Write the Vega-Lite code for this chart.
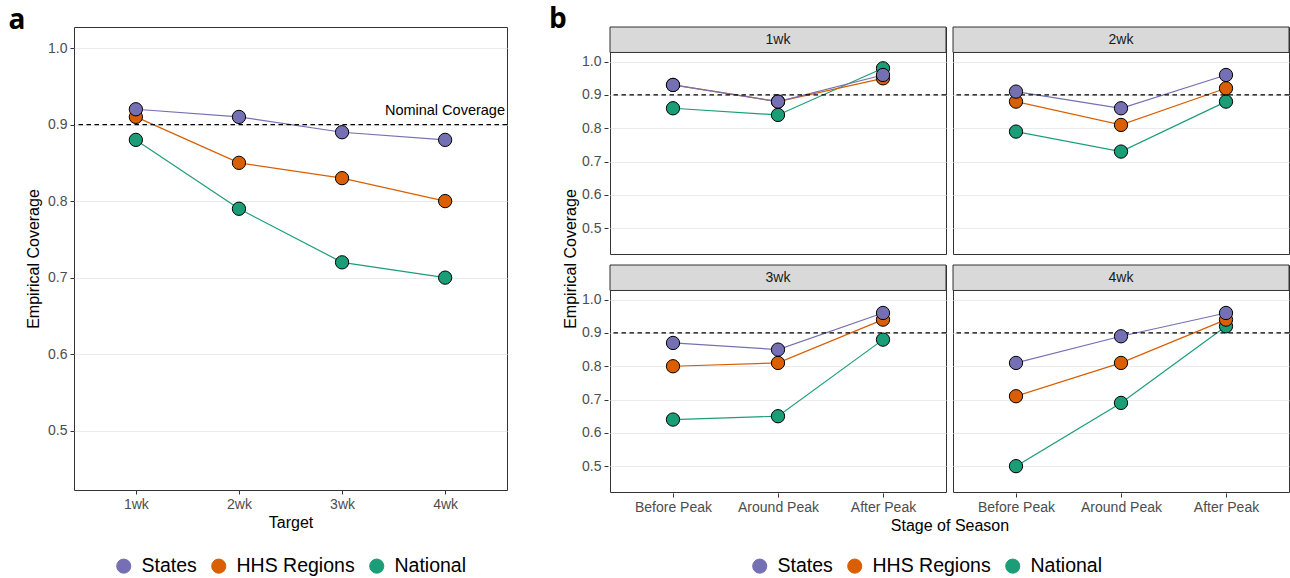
{
  "$schema": "https://vega.github.io/schema/vega-lite/v6.json",
  "padding": {"left": 8, "right": 0, "top": 6, "bottom": 0},
  "datasets": {
    "overall": [
      {"target": "1wk", "level": "National", "coverage": 0.88},
      {"target": "2wk", "level": "National", "coverage": 0.79},
      {"target": "3wk", "level": "National", "coverage": 0.72},
      {"target": "4wk", "level": "National", "coverage": 0.70},
      {"target": "1wk", "level": "HHS Regions", "coverage": 0.91},
      {"target": "2wk", "level": "HHS Regions", "coverage": 0.85},
      {"target": "3wk", "level": "HHS Regions", "coverage": 0.83},
      {"target": "4wk", "level": "HHS Regions", "coverage": 0.80},
      {"target": "1wk", "level": "States", "coverage": 0.92},
      {"target": "2wk", "level": "States", "coverage": 0.91},
      {"target": "3wk", "level": "States", "coverage": 0.89},
      {"target": "4wk", "level": "States", "coverage": 0.88}
    ],
    "stage": [
      {"target": "1wk", "stage": "Before Peak", "level": "National", "coverage": 0.86},
      {"target": "1wk", "stage": "Around Peak", "level": "National", "coverage": 0.84},
      {"target": "1wk", "stage": "After Peak", "level": "National", "coverage": 0.98},
      {"target": "1wk", "stage": "Before Peak", "level": "HHS Regions", "coverage": 0.93},
      {"target": "1wk", "stage": "Around Peak", "level": "HHS Regions", "coverage": 0.88},
      {"target": "1wk", "stage": "After Peak", "level": "HHS Regions", "coverage": 0.95},
      {"target": "1wk", "stage": "Before Peak", "level": "States", "coverage": 0.93},
      {"target": "1wk", "stage": "Around Peak", "level": "States", "coverage": 0.88},
      {"target": "1wk", "stage": "After Peak", "level": "States", "coverage": 0.96},
      {"target": "2wk", "stage": "Before Peak", "level": "National", "coverage": 0.79},
      {"target": "2wk", "stage": "Around Peak", "level": "National", "coverage": 0.73},
      {"target": "2wk", "stage": "After Peak", "level": "National", "coverage": 0.88},
      {"target": "2wk", "stage": "Before Peak", "level": "HHS Regions", "coverage": 0.88},
      {"target": "2wk", "stage": "Around Peak", "level": "HHS Regions", "coverage": 0.81},
      {"target": "2wk", "stage": "After Peak", "level": "HHS Regions", "coverage": 0.92},
      {"target": "2wk", "stage": "Before Peak", "level": "States", "coverage": 0.91},
      {"target": "2wk", "stage": "Around Peak", "level": "States", "coverage": 0.86},
      {"target": "2wk", "stage": "After Peak", "level": "States", "coverage": 0.96},
      {"target": "3wk", "stage": "Before Peak", "level": "National", "coverage": 0.64},
      {"target": "3wk", "stage": "Around Peak", "level": "National", "coverage": 0.65},
      {"target": "3wk", "stage": "After Peak", "level": "National", "coverage": 0.88},
      {"target": "3wk", "stage": "Before Peak", "level": "HHS Regions", "coverage": 0.80},
      {"target": "3wk", "stage": "Around Peak", "level": "HHS Regions", "coverage": 0.81},
      {"target": "3wk", "stage": "After Peak", "level": "HHS Regions", "coverage": 0.94},
      {"target": "3wk", "stage": "Before Peak", "level": "States", "coverage": 0.87},
      {"target": "3wk", "stage": "Around Peak", "level": "States", "coverage": 0.85},
      {"target": "3wk", "stage": "After Peak", "level": "States", "coverage": 0.96},
      {"target": "4wk", "stage": "Before Peak", "level": "National", "coverage": 0.50},
      {"target": "4wk", "stage": "Around Peak", "level": "National", "coverage": 0.69},
      {"target": "4wk", "stage": "After Peak", "level": "National", "coverage": 0.92},
      {"target": "4wk", "stage": "Before Peak", "level": "HHS Regions", "coverage": 0.71},
      {"target": "4wk", "stage": "Around Peak", "level": "HHS Regions", "coverage": 0.81},
      {"target": "4wk", "stage": "After Peak", "level": "HHS Regions", "coverage": 0.94},
      {"target": "4wk", "stage": "Before Peak", "level": "States", "coverage": 0.81},
      {"target": "4wk", "stage": "Around Peak", "level": "States", "coverage": 0.89},
      {"target": "4wk", "stage": "After Peak", "level": "States", "coverage": 0.96}
    ]
  },
  "config": {
    "font": "Liberation Sans",
    "view": {"stroke": "#333333", "strokeWidth": 1},
    "axis": {
      "domain": false,
      "gridColor": "#EBEBEB",
      "gridWidth": 1,
      "tickColor": "#333333",
      "tickSize": 4,
      "labelColor": "#4D4D4D",
      "labelFontSize": 14,
      "labelPadding": 3,
      "titleFontSize": 16,
      "titleFontWeight": "normal",
      "titleColor": "#000000"
    },
    "title": {"font": "Open Sans", "fontWeight": "bold", "fontSize": 28, "anchor": "start", "frame": "bounds", "offset": 0, "dy": 12, "color": "#000000"},
    "legend": {
      "orient": "bottom",
      "direction": "horizontal",
      "title": null,
      "labelFontSize": 19.5,
      "labelColor": "#000000",
      "symbolSize": 200,
      "symbolType": "circle",
      "symbolStrokeColor": "#000000",
      "symbolStrokeWidth": 1,
      "symbolOpacity": 1,
      "labelOffset": 8,
      "columnPadding": 12,
      "offset": 26,
      "layout": {"bottom": {"anchor": "middle"}}
    }
  },
  "resolve": {"scale": {"color": "independent"}, "legend": {"color": "independent"}},
  "spacing": 40,
  "hconcat": [
    {
      "title": {"text": "a", "dx": -17},
      "width": 433,
      "height": 463,
      "data": {"name": "overall"},
      "layer": [
        {
          "mark": {"type": "line", "strokeWidth": 1.2},
          "encoding": {
            "x": {"field": "target", "type": "ordinal", "scale": {"type": "point", "padding": 0.6}, "axis": {"title": "Target", "labelAngle": 0, "titlePadding": 3}},
            "y": {"field": "coverage", "type": "quantitative", "scale": {"domain": [0.4225, 1.0275], "nice": false, "zero": false}, "axis": {"values": [0.5, 0.6, 0.7, 0.8, 0.9, 1.0], "format": ".1f", "title": "Empirical Coverage", "titlePadding": 6}},
            "color": {"field": "level", "type": "nominal", "scale": {"domain": ["States", "HHS Regions", "National"], "range": ["#7570B3", "#D95F02", "#1B9E77"]}}
          }
        },
        {
          "transform": [{"filter": {"and": [{"field": "target", "equal": "4wk"}, {"field": "level", "equal": "States"}]}}],
          "mark": {"type": "rule", "strokeDash": [4.5, 3.5], "color": "#000000", "strokeWidth": 1.2},
          "encoding": {"y": {"datum": 0.9}}
        },
        {
          "transform": [{"filter": {"and": [{"field": "target", "equal": "4wk"}, {"field": "level", "equal": "States"}]}}],
          "mark": {"type": "text", "text": "Nominal Coverage", "fontSize": 14.5, "align": "right", "baseline": "alphabetic", "dx": -2, "dy": -9.5, "color": "#000000"},
          "encoding": {"x": {"value": "width"}, "y": {"datum": 0.9}}
        },
        {
          "mark": {"type": "circle", "size": 177, "stroke": "#000000", "strokeWidth": 1, "opacity": 1},
          "encoding": {
            "x": {"field": "target", "type": "ordinal"},
            "y": {"field": "coverage", "type": "quantitative"},
            "color": {"field": "level", "type": "nominal", "scale": {"domain": ["States", "HHS Regions", "National"], "range": ["#7570B3", "#D95F02", "#1B9E77"]}, "legend": {"encode": {"symbols": {"update": {"stroke": {"value": "#000000"}, "strokeWidth": {"value": 1}}}}}}
          }
        }
      ]
    },
    {
      "title": {"text": "b", "dx": -13},
      "spacing": -17,
      "hconcat": [
        {
          "width": 0,
          "height": 463,
          "view": {"stroke": null},
          "data": {"name": "stage"},
          "transform": [{"filter": {"and": [{"field": "target", "equal": "1wk"}, {"field": "level", "equal": "States"}, {"field": "stage", "equal": "Around Peak"}]}}],
          "mark": {"type": "rule", "strokeOpacity": 0},
          "encoding": {
            "y": {"datum": 0.9, "type": "quantitative", "scale": {"domain": [0.4225, 1.104], "nice": false, "zero": false}, "axis": {"title": "Empirical Coverage", "labels": false, "ticks": false, "grid": false, "domain": false, "titlePadding": 0, "labelPadding": 0, "tickSize": 0, "minExtent": 0}}
          }
        },
        {
          "spacing": 9,
          "vconcat": [
            {
              "data": {"name": "stage"},
              "transform": [{"filter": {"field": "target", "oneOf": ["1wk", "2wk"]}}],
              "facet": {"column": {"field": "target", "type": "nominal", "header": {"labels": false, "title": null}}},
              "spacing": 3,
              "spec": {
                "width": 336,
                "height": 227,
                "layer": [
                  {
                    "mark": {"type": "line", "strokeWidth": 1.2},
                    "encoding": {
                      "x": {"field": "stage", "type": "ordinal", "sort": ["Before Peak", "Around Peak", "After Peak"], "scale": {"type": "point", "padding": 0.6}, "axis": {"title": null, "labels": false, "ticks": false}},
                      "y": {"field": "coverage", "type": "quantitative", "scale": {"domain": [0.4225, 1.104], "nice": false, "zero": false}, "axis": {"values": [0.5, 0.6, 0.7, 0.8, 0.9, 1.0], "format": ".1f", "title": null}},
                      "color": {"field": "level", "type": "nominal", "scale": {"domain": ["States", "HHS Regions", "National"], "range": ["#7570B3", "#D95F02", "#1B9E77"]}}
                    }
                  },
                  {
                    "transform": [{"filter": {"and": [{"field": "level", "equal": "States"}, {"field": "stage", "equal": "Around Peak"}]}}],
                    "mark": {"type": "rect", "fill": "#D9D9D9", "stroke": "#333333", "strokeWidth": 1},
                    "encoding": {"x": {"value": 0}, "x2": {"value": "width"}, "y": {"datum": 1.104}, "y2": {"datum": 1.0275}}
                  },
                  {
                    "transform": [{"filter": {"and": [{"field": "level", "equal": "States"}, {"field": "stage", "equal": "Around Peak"}]}}],
                    "mark": {"type": "text", "fontSize": 14, "color": "#1A1A1A", "baseline": "middle"},
                    "encoding": {"x": {"field": "stage", "type": "ordinal", "sort": ["Before Peak", "Around Peak", "After Peak"]}, "y": {"datum": 1.066}, "text": {"field": "target"}}
                  },
                  {
                    "transform": [{"filter": {"and": [{"field": "level", "equal": "States"}, {"field": "stage", "equal": "Around Peak"}]}}],
                    "mark": {"type": "rule", "strokeDash": [4.5, 3.5], "color": "#000000", "strokeWidth": 1.2},
                    "encoding": {"y": {"datum": 0.9}}
                  },
                  {
                    "mark": {"type": "circle", "size": 177, "stroke": "#000000", "strokeWidth": 1, "opacity": 1},
                    "encoding": {
                      "x": {"field": "stage", "type": "ordinal", "sort": ["Before Peak", "Around Peak", "After Peak"]},
                      "y": {"field": "coverage", "type": "quantitative"},
                      "color": {"field": "level", "type": "nominal", "scale": {"domain": ["States", "HHS Regions", "National"], "range": ["#7570B3", "#D95F02", "#1B9E77"]}, "legend": {"offset": 22, "encode": {"symbols": {"update": {"stroke": {"value": "#000000"}, "strokeWidth": {"value": 1}}}}}}
                    }
                  }
                ]
              }
            },
            {
              "data": {"name": "stage"},
              "transform": [{"filter": {"field": "target", "oneOf": ["3wk", "4wk"]}}],
              "facet": {"column": {"field": "target", "type": "nominal", "header": {"labels": false, "title": "Stage of Season", "titleOrient": "bottom", "titleFont": "Liberation Sans", "titleFontSize": 16, "titleFontWeight": "normal", "titleColor": "#000000", "titlePadding": -6}}},
              "spacing": 3,
              "spec": {
                "width": 336,
                "height": 227,
                "layer": [
                  {
                    "mark": {"type": "line", "strokeWidth": 1.2},
                    "encoding": {
                      "x": {"field": "stage", "type": "ordinal", "sort": ["Before Peak", "Around Peak", "After Peak"], "scale": {"type": "point", "padding": 0.6}, "axis": {"title": null, "labelAngle": 0}},
                      "y": {"field": "coverage", "type": "quantitative", "scale": {"domain": [0.4225, 1.104], "nice": false, "zero": false}, "axis": {"values": [0.5, 0.6, 0.7, 0.8, 0.9, 1.0], "format": ".1f", "title": null}},
                      "color": {"field": "level", "type": "nominal", "scale": {"domain": ["States", "HHS Regions", "National"], "range": ["#7570B3", "#D95F02", "#1B9E77"]}}
                    }
                  },
                  {
                    "transform": [{"filter": {"and": [{"field": "level", "equal": "States"}, {"field": "stage", "equal": "Around Peak"}]}}],
                    "mark": {"type": "rect", "fill": "#D9D9D9", "stroke": "#333333", "strokeWidth": 1},
                    "encoding": {"x": {"value": 0}, "x2": {"value": "width"}, "y": {"datum": 1.104}, "y2": {"datum": 1.0275}}
                  },
                  {
                    "transform": [{"filter": {"and": [{"field": "level", "equal": "States"}, {"field": "stage", "equal": "Around Peak"}]}}],
                    "mark": {"type": "text", "fontSize": 14, "color": "#1A1A1A", "baseline": "middle"},
                    "encoding": {"x": {"field": "stage", "type": "ordinal", "sort": ["Before Peak", "Around Peak", "After Peak"]}, "y": {"datum": 1.066}, "text": {"field": "target"}}
                  },
                  {
                    "transform": [{"filter": {"and": [{"field": "level", "equal": "States"}, {"field": "stage", "equal": "Around Peak"}]}}],
                    "mark": {"type": "rule", "strokeDash": [4.5, 3.5], "color": "#000000", "strokeWidth": 1.2},
                    "encoding": {"y": {"datum": 0.9}}
                  },
                  {
                    "mark": {"type": "circle", "size": 177, "stroke": "#000000", "strokeWidth": 1, "opacity": 1},
                    "encoding": {
                      "x": {"field": "stage", "type": "ordinal", "sort": ["Before Peak", "Around Peak", "After Peak"]},
                      "y": {"field": "coverage", "type": "quantitative"},
                      "color": {"field": "level", "type": "nominal", "scale": {"domain": ["States", "HHS Regions", "National"], "range": ["#7570B3", "#D95F02", "#1B9E77"]}, "legend": {"offset": 22, "encode": {"symbols": {"update": {"stroke": {"value": "#000000"}, "strokeWidth": {"value": 1}}}}}}
                    }
                  }
                ]
              }
            }
          ]
        }
      ]
    }
  ]
}
